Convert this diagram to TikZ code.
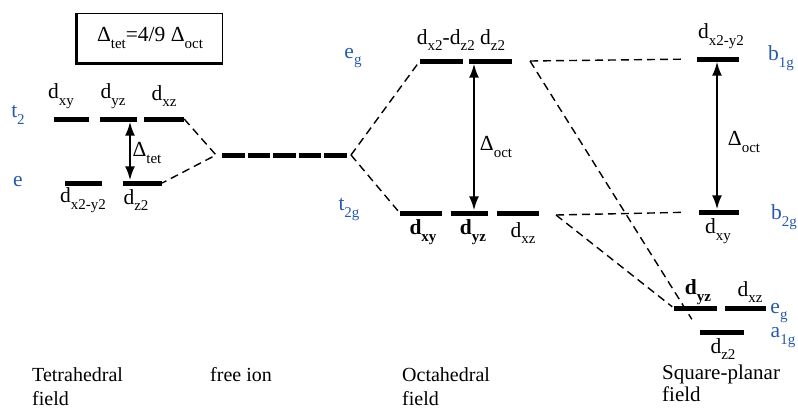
\documentclass[tikz,border=0pt]{standalone}
\usepackage{fontspec}
\setmainfont{Liberation Serif}
\usetikzlibrary{arrows.meta,calc}
\definecolor{lblue}{RGB}{40,90,170}
\newcommand\lsub[1]{\raisebox{-0.32em}{\fontsize{15}{15}\selectfont #1}}
\begin{document}
\begin{tikzpicture}[x=1pt,y=-1pt,
  lvl/.style={fill=black,inner sep=0pt,minimum height=5pt,draw=none},
  corr/.style={dash pattern=on 8pt off 5pt,line width=1.4pt},
  splitarrow/.style={{Latex[length=14pt,width=10pt]}-{Latex[length=14pt,width=10pt]},line width=2pt},
  lab/.style={font=\fontsize{21.5}{21.5}\selectfont,inner sep=0pt},
  sym/.style={lab,text=lblue},
  captxt/.style={font=\fontsize{20}{24}\selectfont,align=left,anchor=north west,inner sep=0pt}]
\useasboundingbox (0,0) rectangle (798,410);

% box
\node[draw,line width=1.8pt,minimum width=145pt,minimum height=49pt,inner sep=0pt,lab] (box) at (150,38)
  {Δ\lsub{tet}=4/9 Δ\lsub{oct}};
\draw[line width=3.5pt] (box.north west) -- (box.south west) -- (box.south east);

% tetrahedral levels
\node[lvl,minimum width=35pt] (txy) at (71.5,119) {};
\node[lvl,minimum width=37pt] (tyz) at (118.5,119) {};
\node[lvl,minimum width=40pt] (txz) at (164,119) {};
\node[lvl,minimum width=37pt] (ex2) at (83.5,183) {};
\node[lvl,minimum width=39pt] (ez2) at (142.5,183) {};

% free ion
\coordinate (fl) at (222,155);
\coordinate (fr) at (347,155);
\coordinate (fvL) at (216,155);
\coordinate (fvR) at (351,155);
\draw[line width=5pt,dash pattern=on 22.5pt off 3pt] (fl) -- (fr);

% octahedral levels
\node[lvl,minimum width=43pt] (egA) at (441.5,61) {};
\node[lvl,minimum width=43pt] (egB) at (490.5,61) {};
\node[lvl,minimum width=42pt] (oxy) at (421,213) {};
\node[lvl,minimum width=37pt] (oyz) at (469.5,213) {};
\node[lvl,minimum width=42pt] (oxz) at (518,213) {};

% square planar levels
\node[lvl,minimum width=42pt] (b1) at (718,59) {};
\node[lvl,minimum width=40pt] (b2) at (719,212) {};
\node[lvl,minimum width=43pt] (se1) at (695.5,308) {};
\node[lvl,minimum width=41pt] (se2) at (745.5,308) {};
\node[lvl,minimum width=44pt] (a1) at (722,332) {};

% correlation lines
\draw[corr] (txz.east) -- (fvL) -- (ez2.east);
\draw[corr,shorten >=4pt] (fvR) -- (egA.west);
\draw[corr,shorten >=3pt] (fvR) -- (oxy.west);
\coordinate (c1) at (530,61);
\coordinate (c2) at (556,215);
\draw[corr,shorten >=16pt] (c1) -- (b1.west);
\draw[corr,shorten >=15pt] (c1) -- (a1.west);
\draw[corr,shorten >=16pt] (c2) -- (b2.west);
\draw[corr,shorten >=2pt] (c2) -- (se1.west);

% splitting arrows
\draw[splitarrow] ([xshift=11.5pt]tyz.south) -- ([xshift=-12.5pt]ez2.north);
\draw[splitarrow] ([xshift=-16.5pt]egB.south) -- ([xshift=4.5pt]oyz.north);
\draw[splitarrow] ([xshift=-1pt]b1.south) -- ([xshift=-2pt]b2.north);

% tetrahedral labels
\node[lab] (lxy) at (61,96) {d\lsub{xy}};
\node[lab] (lyz) at (113,96) {d\lsub{yz}};
\node[lab] (lxz) at (164,96) {d\lsub{xz}};
\node[lab] (ltet) at (147,153) {Δ\lsub{tet}};
\node[lab] (lx2) at (83,200) {d\lsub{x2-y2}};
\node[lab] (lz2) at (136,200) {d\lsub{z2}};
\node[sym] (st2) at (18,115) {t\lsub{2}};
\node[sym] (se) at (18,182) {e};

% octahedral labels
\node[sym] (seg) at (353,58) {e\lsub{g}};
\node[lab] (loeg) at (461,40) {d\lsub{x2}-d\lsub{z2} d\lsub{z2}};
\node[lab] (loct) at (496,147) {Δ\lsub{oct}};
\node[sym] (st2g) at (349,210) {t\lsub{2g}};
\node[lab] (loxy) at (423,232) {\textbf{d\lsub{xy}}};
\node[lab] (loyz) at (473,232) {\textbf{d\lsub{yz}}};
\node[lab] (loxz) at (523,233) {d\lsub{xz}};

% square planar labels
\node[lab] (lsx2) at (721,36) {d\lsub{x2-y2}};
\node[sym] (sb1) at (781,58) {b\lsub{1g}};
\node[lab] (lsoct) at (744,142) {Δ\lsub{oct}};
\node[lab] (lsxy) at (718,231) {d\lsub{xy}};
\node[sym] (sb2) at (784,217) {b\lsub{2g}};
\node[lab] (lsyz) at (698,292) {\textbf{d\lsub{yz}}};
\node[lab] (lsxz) at (750,292) {d\lsub{xz}};
\node[sym] (sseg) at (779,313) {e\lsub{g}};
\node[sym] (sa1) at (783,338) {a\lsub{1g}};
\node[lab] (lsz2) at (723,349) {d\lsub{z2}};

% captions
\node[captxt] (ctet) at (32,367) {Tetrahedral\\field};
\node[captxt] (cfree) at (210,367) {free ion};
\node[captxt] (coct) at (402,367) {Octahedral\\field};
\node[captxt,font=\fontsize{21}{22}\selectfont] (csq) at (662,365) {Square-planar\\field};
\end{tikzpicture}
\end{document}
